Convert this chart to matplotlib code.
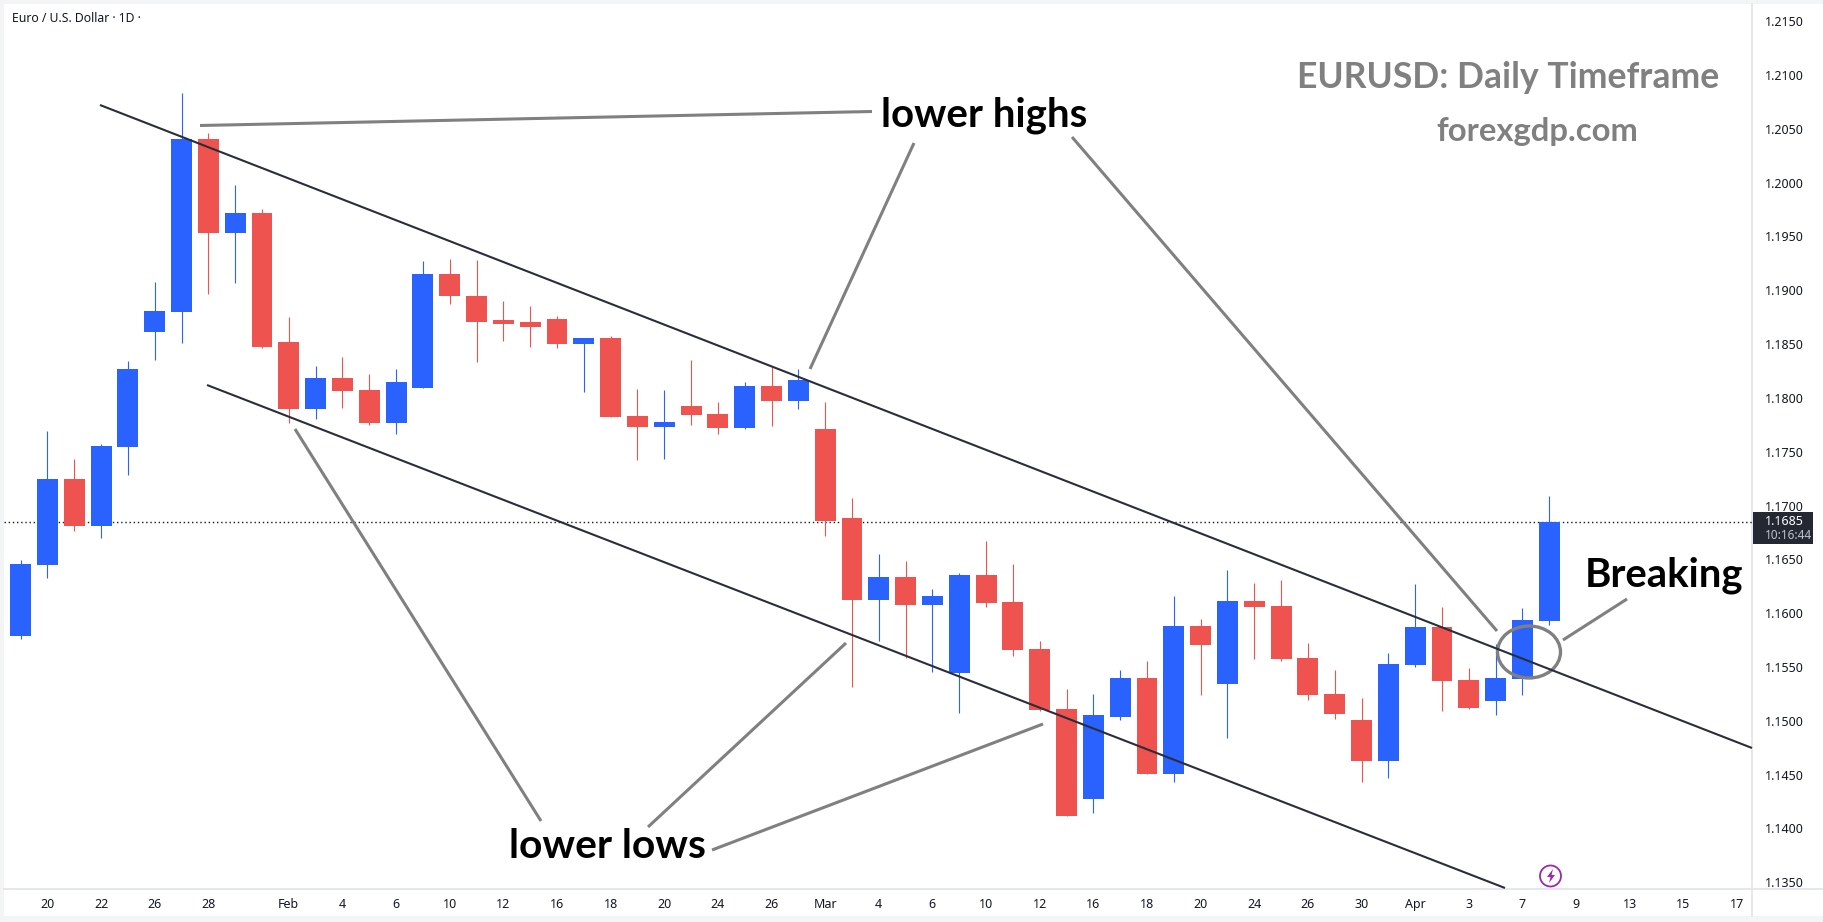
import matplotlib
matplotlib.use('Agg')
import matplotlib.pyplot as plt
from matplotlib.patches import Ellipse, Polygon, Rectangle

# Daily EUR/USD candles
open_ = [1.1579, 1.1645, 1.1725, 1.1681, 1.1754, 1.1861, 1.1880, 1.2040, 1.1953, 1.1972,
         1.1852, 1.1790, 1.1818, 1.1807, 1.1777, 1.1809, 1.1915, 1.1895, 1.1872, 1.1870,
         1.1873, 1.1850, 1.1856, 1.1783, 1.1773, 1.1792, 1.1785, 1.1772, 1.1811, 1.1797,
         1.1771, 1.1688, 1.1612, 1.1634, 1.1608, 1.1544, 1.1635, 1.1610, 1.1567, 1.1511,
         1.1427, 1.1504, 1.1540, 1.1451, 1.1588, 1.1534, 1.1611, 1.1607, 1.1558, 1.1525,
         1.1501, 1.1463, 1.1552, 1.1587, 1.1538, 1.1518, 1.1539, 1.1593]
high = [1.1649, 1.1769, 1.1743, 1.1757, 1.1834, 1.1908, 1.2083, 1.2046, 1.1998, 1.1975,
        1.1875, 1.1830, 1.1838, 1.1822, 1.1827, 1.1927, 1.1929, 1.1928, 1.1890, 1.1885,
        1.1876, 1.1856, 1.1857, 1.1808, 1.1807, 1.1835, 1.1796, 1.1815, 1.1830, 1.1827,
        1.1796, 1.1707, 1.1655, 1.1648, 1.1622, 1.1637, 1.1667, 1.1646, 1.1574, 1.1530,
        1.1525, 1.1547, 1.1556, 1.1616, 1.1595, 1.1640, 1.1628, 1.1631, 1.1572, 1.1547,
        1.1521, 1.1563, 1.1627, 1.1606, 1.1549, 1.1571, 1.1605, 1.1709]
low = [1.1576, 1.1633, 1.1676, 1.1670, 1.1728, 1.1835, 1.1851, 1.1896, 1.1907, 1.1846,
       1.1777, 1.1780, 1.1791, 1.1775, 1.1766, 1.1809, 1.1887, 1.1833, 1.1853, 1.1847,
       1.1846, 1.1805, 1.1782, 1.1742, 1.1743, 1.1775, 1.1766, 1.1771, 1.1774, 1.1790,
       1.1672, 1.1531, 1.1574, 1.1558, 1.1545, 1.1507, 1.1606, 1.1560, 1.1509, 1.1412,
       1.1414, 1.1501, 1.1451, 1.1443, 1.1524, 1.1484, 1.1557, 1.1556, 1.1519, 1.1502,
       1.1443, 1.1447, 1.1550, 1.1509, 1.1511, 1.1505, 1.1524, 1.1589]
close = [1.1646, 1.1725, 1.1681, 1.1755, 1.1827, 1.1881, 1.2040, 1.1953, 1.1972, 1.1847,
         1.1790, 1.1818, 1.1806, 1.1777, 1.1815, 1.1915, 1.1895, 1.1870, 1.1869, 1.1866,
         1.1850, 1.1856, 1.1782, 1.1773, 1.1778, 1.1784, 1.1772, 1.1811, 1.1797, 1.1817,
         1.1686, 1.1612, 1.1634, 1.1608, 1.1616, 1.1635, 1.1609, 1.1566, 1.1510, 1.1412,
         1.1505, 1.1540, 1.1451, 1.1588, 1.1570, 1.1611, 1.1606, 1.1557, 1.1524, 1.1506,
         1.1463, 1.1553, 1.1587, 1.1537, 1.1512, 1.1540, 1.1594, 1.1685]

last_price = 1.1685
price_ticks = [1.2150, 1.2100, 1.2050, 1.2000, 1.1950, 1.1900, 1.1850, 1.1800, 1.1750, 1.1700,
               1.1650, 1.1600, 1.1550, 1.1500, 1.1450, 1.1400, 1.1350]
date_pos = [1, 3, 5, 7, 10, 12, 14, 16, 18, 20, 22, 24, 26, 28, 30, 32, 34, 36, 38, 40, 42,
            44, 46, 48, 50, 52, 54, 56, 58, 60, 62, 64]
date_labels = ['20', '22', '26', '28', 'Feb', '4', '6', '10', '12', '16', '18', '20', '24', '26',
               'Mar', '4', '6', '10', '12', '16', '18', '20', '24', '26', '30', 'Apr', '3', '7',
               '9', '13', '15', '17']
bold_dates = ['Feb', 'Mar', 'Apr']

BLUE = '#2962ff'
RED = '#ef5350'
INK = '#131722'
GREY = '#808080'
EDGE = '#e0e3eb'
W, H = 1823, 922

plt.rcParams['font.family'] = ['Noto Sans', 'DejaVu Sans']

fig = plt.figure(figsize=(W / 100, H / 100), dpi=100, facecolor='#f3f4f6')

# white panel behind chart and axes
panel = fig.add_axes([0, 0, 1, 1], zorder=0)
panel.set_xlim(0, W)
panel.set_ylim(H, 0)
panel.axis('off')
panel.add_patch(Rectangle((4, 4), W - 4, 912, facecolor='white', edgecolor='none'))
panel.plot([1752, 1752], [4, 916], color=EDGE, lw=1.2)
panel.plot([4, W], [889, 889], color=EDGE, lw=1.2)

# price chart, in bar index / price units
ax = fig.add_axes([4 / W, 1 - 889 / H, (1752 - 4) / W, (889 - 4) / H], zorder=1)
ax.patch.set_alpha(0)
ax.set_xlim(-0.619, 64.56)
ax.set_ylim(1.13438, 1.21658)

for i in range(len(open_)):
    col = BLUE if close[i] >= open_[i] else RED
    ax.vlines(i, low[i], high[i], color=col, lw=0.8, zorder=2)
    ax.bar(i, abs(close[i] - open_[i]), bottom=min(open_[i], close[i]), width=0.78, color=col, zorder=3)

ax.axhline(last_price, color=INK, lw=1, linestyle=(0, (1, 2)), zorder=1)

ax.yaxis.tick_right()
ax.set_yticks(price_ticks)
ax.set_yticklabels([f'{p:.4f}' for p in price_ticks], fontsize=9, color=INK)
ax.set_xticks(date_pos)
ax.set_xticklabels(date_labels, fontsize=9, color=INK)
for lab in ax.get_xticklabels():
    if lab.get_text() in bold_dates:
        lab.set_fontweight('bold')
ax.tick_params(axis='both', length=0)
ax.tick_params(axis='y', pad=9)
ax.tick_params(axis='x', pad=6.5)
for side in ax.spines:
    ax.spines[side].set_visible(False)

# drawings on top, in pixel coordinates
top = fig.add_axes([0, 0, 1, 1], zorder=2)
top.set_xlim(0, W)
top.set_ylim(H, 0)
top.axis('off')
top.patch.set_alpha(0)

top.plot([100, 1752], [105, 748], color='#2a2e39', lw=1.5, solid_capstyle='butt')
top.plot([207, 1505], [385, 888], color='#2a2e39', lw=1.5, solid_capstyle='butt')

grey_lines = [((200, 872), (125.5, 111.5)),
              ((914, 810), (143, 369)),
              ((1072, 1497), (137, 631)),
              ((295, 541), (429, 821)),
              ((846, 648), (643, 827)),
              ((1043, 712), (724, 850)),
              ((1627, 1563), (599, 640))]
for xs, ys in grey_lines:
    top.plot(xs, ys, color=GREY, lw=2.2, solid_capstyle='butt')
top.add_patch(Ellipse((1529, 652), 63, 52, fill=False, edgecolor=GREY, lw=2.4))

top.text(984, 115, 'lower highs', family='Lato', weight='bold', fontsize=29, color='black', ha='center', va='center')
top.text(607, 846, 'lower lows', family='Lato', weight='bold', fontsize=29.3, color='black', ha='center', va='center')
top.text(1664, 575, 'Breaking', family='Lato', weight='bold', fontsize=28.8, color='black', ha='center', va='center')
top.text(1508, 77, 'EURUSD: Daily Timeframe', family='Lato', weight='bold', fontsize=25.6, color=GREY, ha='center', va='center')
top.text(1537, 132, 'forexgdp.com', family='Lato', weight='bold', fontsize=23.7, color=GREY, ha='center', va='center')

top.text(12, 19, 'Euro / U.S. Dollar · 1D ·', fontsize=8.8, color=INK, ha='left', va='center')

# last price tag
top.add_patch(Rectangle((1753, 512), 60, 32, facecolor=INK, edgecolor='none', alpha=0.93))
top.text(1765, 521, f'{last_price:.4f}', fontsize=9, weight='bold', color='white', ha='left', va='center')
top.text(1765, 535, '10:16:44', fontsize=8.5, weight='bold', color='#c0c3ca', ha='left', va='center')

# lightning marker under the last bar
top.add_patch(Ellipse((1550.5, 876), 21, 21, fill=False, edgecolor='#9c27b0', lw=1.3))
top.add_patch(Polygon([(1553, 869), (1547, 877), (1550.5, 877), (1549, 883), (1555, 875), (1551.5, 875)],
                      closed=True, facecolor='#9c27b0', edgecolor='none'))

fig.savefig('out.png', dpi=100, facecolor=fig.get_facecolor())
